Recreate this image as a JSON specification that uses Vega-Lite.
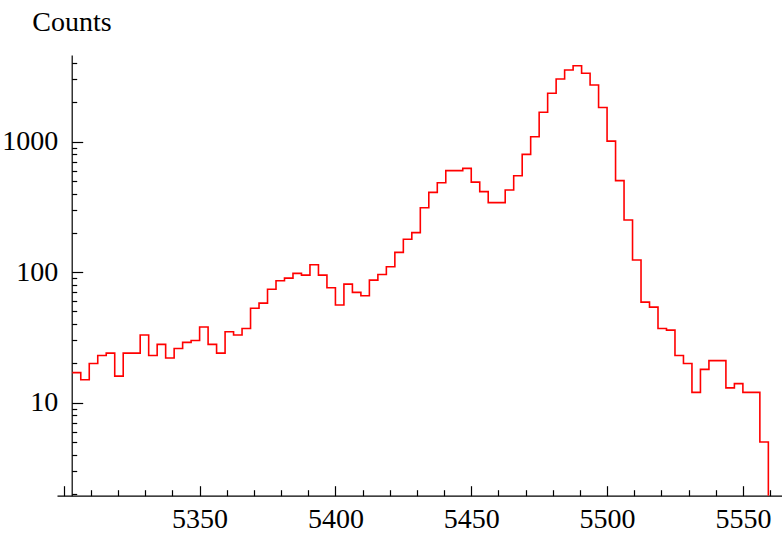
{
  "$schema": "https://vega.github.io/schema/vega-lite/v6.json",
  "width": 725,
  "height": 440.7,
  "autosize": "none",
  "padding": {"left": 57, "top": 55, "right": 0, "bottom": 39.3},
  "background": "white",
  "config": {"view": {"stroke": null}, "font": "Liberation Serif"},
  "data": {"values": [
    {"energy": 5303.125, "counts": 17},
    {"energy": 5306.25, "counts": 15},
    {"energy": 5309.375, "counts": 20},
    {"energy": 5312.5, "counts": 23},
    {"energy": 5315.625, "counts": 24},
    {"energy": 5318.75, "counts": 16},
    {"energy": 5321.875, "counts": 24},
    {"energy": 5325, "counts": 24},
    {"energy": 5328.125, "counts": 33},
    {"energy": 5331.25, "counts": 23},
    {"energy": 5334.375, "counts": 28},
    {"energy": 5337.5, "counts": 22},
    {"energy": 5340.625, "counts": 26},
    {"energy": 5343.75, "counts": 29},
    {"energy": 5346.875, "counts": 30},
    {"energy": 5350, "counts": 38},
    {"energy": 5353.125, "counts": 28},
    {"energy": 5356.25, "counts": 24},
    {"energy": 5359.375, "counts": 35},
    {"energy": 5362.5, "counts": 33},
    {"energy": 5365.625, "counts": 37},
    {"energy": 5368.75, "counts": 53},
    {"energy": 5371.875, "counts": 58},
    {"energy": 5375, "counts": 74},
    {"energy": 5378.125, "counts": 86},
    {"energy": 5381.25, "counts": 90},
    {"energy": 5384.375, "counts": 98},
    {"energy": 5387.5, "counts": 95},
    {"energy": 5390.625, "counts": 114},
    {"energy": 5393.75, "counts": 95},
    {"energy": 5396.875, "counts": 76},
    {"energy": 5400, "counts": 56},
    {"energy": 5403.125, "counts": 81},
    {"energy": 5406.25, "counts": 70},
    {"energy": 5409.375, "counts": 66},
    {"energy": 5412.5, "counts": 87},
    {"energy": 5415.625, "counts": 96},
    {"energy": 5418.75, "counts": 110},
    {"energy": 5421.875, "counts": 142},
    {"energy": 5425, "counts": 179},
    {"energy": 5428.125, "counts": 201},
    {"energy": 5431.25, "counts": 312},
    {"energy": 5434.375, "counts": 409},
    {"energy": 5437.5, "counts": 485},
    {"energy": 5440.625, "counts": 600},
    {"energy": 5443.75, "counts": 600},
    {"energy": 5446.875, "counts": 625},
    {"energy": 5450, "counts": 490},
    {"energy": 5453.125, "counts": 414},
    {"energy": 5456.25, "counts": 341},
    {"energy": 5459.375, "counts": 341},
    {"energy": 5462.5, "counts": 426},
    {"energy": 5465.625, "counts": 549},
    {"energy": 5468.75, "counts": 800},
    {"energy": 5471.875, "counts": 1091},
    {"energy": 5475, "counts": 1680},
    {"energy": 5478.125, "counts": 2349},
    {"energy": 5481.25, "counts": 3022},
    {"energy": 5484.375, "counts": 3543},
    {"energy": 5487.5, "counts": 3822},
    {"energy": 5490.625, "counts": 3344},
    {"energy": 5493.75, "counts": 2718},
    {"energy": 5496.875, "counts": 1830},
    {"energy": 5500, "counts": 1010},
    {"energy": 5503.125, "counts": 503},
    {"energy": 5506.25, "counts": 251},
    {"energy": 5509.375, "counts": 124},
    {"energy": 5512.5, "counts": 59},
    {"energy": 5515.625, "counts": 54},
    {"energy": 5518.75, "counts": 37},
    {"energy": 5521.875, "counts": 36},
    {"energy": 5525, "counts": 23},
    {"energy": 5528.125, "counts": 20},
    {"energy": 5531.25, "counts": 12},
    {"energy": 5534.375, "counts": 18},
    {"energy": 5537.5, "counts": 21},
    {"energy": 5540.625, "counts": 21},
    {"energy": 5543.75, "counts": 13},
    {"energy": 5546.875, "counts": 14},
    {"energy": 5550, "counts": 12},
    {"energy": 5553.125, "counts": 12},
    {"energy": 5556.25, "counts": 5},
    {"energy": 5559.375, "counts": 1}
  ]},
  "layer": [
    {
      "mark": {"type": "line", "interpolate": "step-after", "color": "#ff0000", "strokeWidth": 1.6, "clip": true},
      "encoding": {
        "x": {
          "field": "energy", "type": "quantitative",
          "scale": {"domain": [5297.5, 5564.4], "nice": false, "zero": false},
          "axis": {
            "orient": "bottom",
            "title": null,
            "values": [5350, 5400, 5450, 5500, 5550],
            "format": "d",
            "labelOverlap": false,
            "labelFlush": false,
            "labelFont": "Liberation Serif",
            "labelFontSize": 28,
            "labelColor": "#000000",
            "labelPadding": 9.5,
            "domainColor": "#000000",
            "domainWidth": 1.2,
            "ticks": false,
            "grid": false
          }
        },
        "y": {
          "field": "counts", "type": "quantitative",
          "scale": {"type": "log", "domain": [1.939, 4615], "nice": false, "zero": false},
          "axis": {
            "orient": "left",
            "title": "Counts",
            "titleAngle": 0,
            "titleAlign": "left",
            "titleBaseline": "alphabetic",
            "titleX": -40,
            "titleY": -25,
            "titleFont": "Liberation Serif",
            "titleFontSize": 28,
            "titleFontWeight": "normal",
            "titleColor": "#000000",
            "offset": -14.7,
            "values": [10, 100, 1000],
            "format": "d",
            "labelOverlap": false,
            "labelFlush": false,
            "labelFont": "Liberation Serif",
            "labelFontSize": 28,
            "labelColor": "#000000",
            "labelPadding": 14,
            "domainColor": "#000000",
            "domainWidth": 1.2,
            "ticks": false,
            "grid": false
          }
        }
      }
    },
    {
      "mark": {"type": "line", "interpolate": "step-after", "color": "#ff0000", "strokeWidth": 1.6, "strokeOpacity": 0, "clip": true},
      "encoding": {
        "x": {
          "field": "energy", "type": "quantitative",
          "axis": {
            "orient": "top",
            "offset": -440.7,
            "title": null,
            "values": [5300, 5350, 5400, 5450, 5500, 5550],
            "labels": false,
            "domain": false,
            "tickColor": "#000000",
            "tickWidth": 1.2,
            "tickSize": 10,
            "grid": false
          }
        },
        "y": {
          "field": "counts", "type": "quantitative",
          "axis": {
            "orient": "right",
            "offset": -710.3,
            "title": null,
            "values": [10, 100, 1000],
            "labels": false,
            "domain": false,
            "tickColor": "#000000",
            "tickWidth": 1.2,
            "tickSize": 11,
            "grid": false
          }
        }
      }
    },
    {
      "mark": {"type": "line", "interpolate": "step-after", "color": "#ff0000", "strokeWidth": 1.6, "strokeOpacity": 0, "clip": true},
      "encoding": {
        "x": {
          "field": "energy", "type": "quantitative",
          "axis": {
            "orient": "top",
            "offset": -440.7,
            "title": null,
            "values": [5310, 5320, 5330, 5340, 5360, 5370, 5380, 5390, 5410, 5420, 5430, 5440, 5460, 5470, 5480, 5490, 5510, 5520, 5530, 5540, 5560],
            "labels": false,
            "domain": false,
            "tickColor": "#000000",
            "tickWidth": 1.2,
            "tickSize": 6,
            "grid": false
          }
        },
        "y": {
          "field": "counts", "type": "quantitative",
          "axis": {
            "orient": "right",
            "offset": -710.3,
            "title": null,
            "values": [2, 3, 4, 5, 6, 7, 8, 9, 20, 30, 40, 50, 60, 70, 80, 90, 200, 300, 400, 500, 600, 700, 800, 900, 2000, 3000, 4000],
            "labels": false,
            "domain": false,
            "tickColor": "#000000",
            "tickWidth": 1.2,
            "tickSize": 5,
            "grid": false
          }
        }
      }
    }
  ],
  "resolve": {"axis": {"x": "independent", "y": "independent"}}
}
